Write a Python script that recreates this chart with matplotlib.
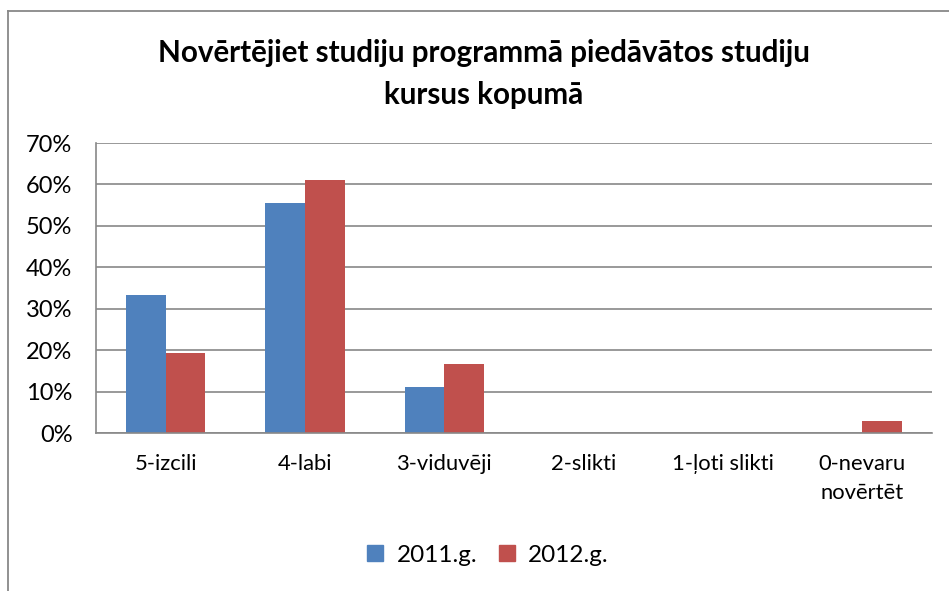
import matplotlib
matplotlib.use("Agg")
import matplotlib.pyplot as plt
from matplotlib.lines import Line2D
from matplotlib.patches import Patch
import numpy as np

categories = ["5-izcili", "4-labi", "3-viduvēji", "2-slikti", "1-ļoti slikti", "0-nevaru\nnovērtēt"]
series_names = ["2011.g.", "2012.g."]
values_2011 = [33.3, 55.6, 11.1, 0, 0, 0]
values_2012 = [19.4, 61.1, 16.7, 0, 0, 2.8]
yticks = [0, 10, 20, 30, 40, 50, 60, 70]
title_lines = ["Novērtējiet studiju programmā piedāvātos studiju", "kursus kopumā"]

colors = ["#4F81BD", "#C0504D"]
plt.rcParams['font.family'] = ['Lato', 'DejaVu Sans']

W, H = 949, 591
fig = plt.figure(figsize=(W/100, H/100), dpi=100)
ax = fig.add_axes([96/W, 1-433/H, (932-96)/W, (433-143)/H])

x = np.arange(len(categories))
bw = 1/3.5
ax.bar(x - bw/2, values_2011, bw, color=colors[0], label=series_names[0])
ax.bar(x + bw/2, values_2012, bw, color=colors[1], label=series_names[1])

ax.set_xlim(-0.5, len(categories)-0.5)
ax.set_ylim(0, 70)
ax.set_yticks(yticks)
ax.set_yticklabels([f"{t}%" for t in yticks], fontsize=17)
ax.set_xticks(x)
ax.set_xticklabels(categories, fontsize=15.8, linespacing=1.6)
ax.tick_params(axis='y', length=0, pad=17)
ax.tick_params(axis='x', length=0, pad=15)
ax.grid(axis='y', color='#888888', linewidth=1.2)
ax.set_axisbelow(True)
for s in ['top', 'right']:
    ax.spines[s].set_visible(False)
for s in ['left', 'bottom']:
    ax.spines[s].set_color('#888888')
    ax.spines[s].set_linewidth(1.2)

fig.text(484/W, 1-53/H, title_lines[0], ha='center', va='center', fontsize=21.3, fontweight='bold')
fig.text(484/W, 1-95/H, title_lines[1], ha='center', va='center', fontsize=21.3, fontweight='bold')

handles = [Patch(color=c) for c in colors]
fig.legend(handles, series_names, loc='center', bbox_to_anchor=(488/W, 1-555/H), ncol=2,
           frameon=False, fontsize=17.5, handlelength=0.65, handleheight=0.65, handletextpad=0.55, columnspacing=0.9)

fig.add_artist(Line2D([8/W, 8/W], [0, 1-11/H], transform=fig.transFigure, color='#888888', linewidth=1.3))
fig.add_artist(Line2D([8/W, 1], [1-11/H, 1-11/H], transform=fig.transFigure, color='#888888', linewidth=1.3))

fig.savefig("out.png", dpi=100)
